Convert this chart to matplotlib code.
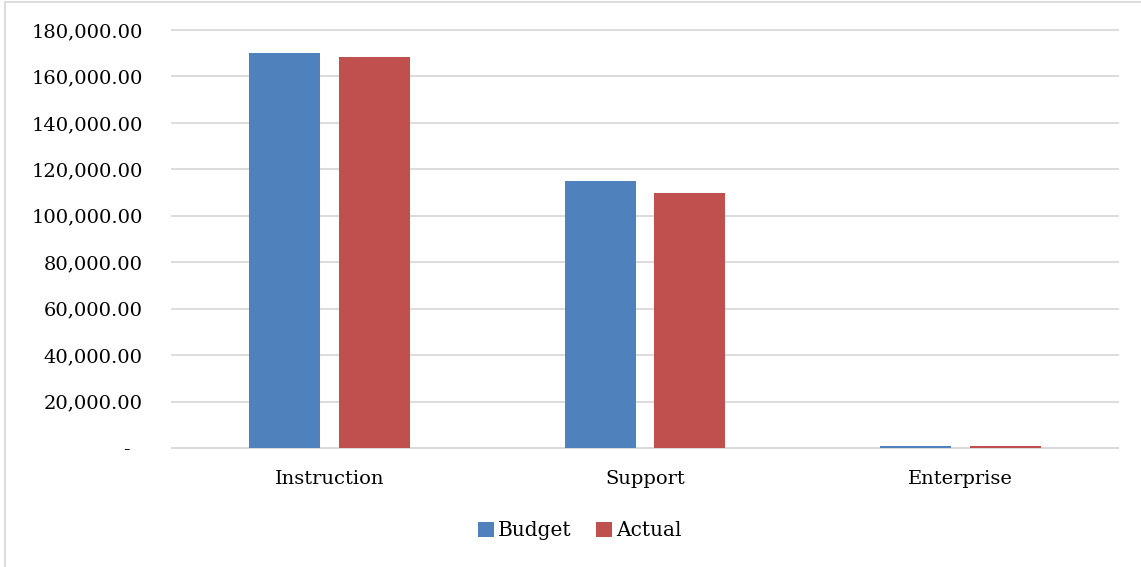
import matplotlib
matplotlib.use("Agg")
import matplotlib.pyplot as plt
from matplotlib.ticker import FuncFormatter, MultipleLocator
from matplotlib.patches import Rectangle
import numpy as np

categories = ["Instruction", "Support", "Enterprise"]
budget = [170000, 115000, 700]
actual = [168500, 110000, 650]
series_names = ["Budget", "Actual"]

plt.rcParams['font.family'] = ['DejaVu Serif']

fig = plt.figure(figsize=(11.41, 5.67), dpi=100)
ax = fig.add_axes([172/1141, 1-448/567, (1118-172)/1141, (448-30)/567])

x = np.arange(len(categories))
w = 0.225
off = 0.1425
ax.bar(x - off, budget, w, color="#4F81BD", label=series_names[0], zorder=3)
ax.bar(x + off, actual, w, color="#C0504D", label=series_names[1], zorder=3)

ax.set_xlim(-0.5, 2.5)
ax.set_ylim(0, 180000)
ax.yaxis.set_major_locator(MultipleLocator(20000))
ax.yaxis.set_major_formatter(FuncFormatter(lambda v, p: f"{v:,.2f}" if v else "-  "))
ax.set_xticks(x)
ax.set_xticklabels(categories)
ax.grid(axis="y", color="#D9D9D9", linewidth=1.3, zorder=0)
for gl in ax.get_ygridlines():
    gl.set_clip_on(False)
for s in ["top", "right", "left"]:
    ax.spines[s].set_visible(False)
ax.spines["bottom"].set_color("#D9D9D9")
ax.spines["bottom"].set_linewidth(1.3)
ax.tick_params(axis="y", length=0, pad=21, labelsize=14)
ax.tick_params(axis="x", length=0, pad=16, labelsize=14)

leg = fig.legend(loc="center", bbox_to_anchor=(580/1141, 1-531/567), ncol=2, frameon=False,
                 fontsize=14.5, handlelength=0.8, handleheight=0.8, handletextpad=0.2, columnspacing=1.2)

fig.patches.append(Rectangle((5/1141, -0.1), 1.2, 1 - 2/567 + 0.1, transform=fig.transFigure,
                             fill=False, edgecolor="#D9D9D9", linewidth=1.3))

fig.savefig("out.png", dpi=100)
